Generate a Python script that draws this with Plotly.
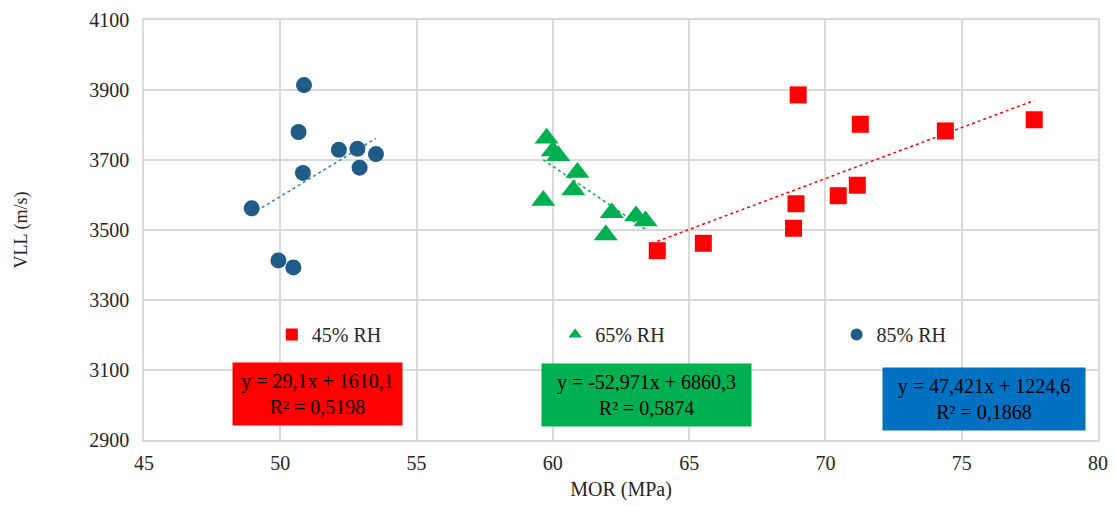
import plotly.graph_objects as go

# 45% RH (red squares)
x45 = [63.83, 65.52, 69.00, 68.83, 68.92, 70.47, 71.17, 71.28, 74.40, 77.66]
y45 = [3441, 3462, 3886, 3505, 3575, 3598, 3628, 3802, 3783, 3815]
# 65% RH (green triangles)
x65 = [59.77, 60.00, 60.20, 60.90, 60.75, 59.65, 62.16, 63.05, 63.40, 61.94]
y65 = [3762, 3726, 3712, 3664, 3614, 3584, 3549, 3540, 3526, 3486]
# 85% RH (blue circles)
x85 = [48.95, 50.87, 50.67, 50.83, 52.15, 52.83, 53.51, 52.91, 49.93, 50.48]
y85 = [3562, 3914, 3780, 3663, 3729, 3732, 3717, 3678, 3413, 3393]

# trend line coefficients (slope, intercept) and labels
fit45 = (29.1, 1610.1)
fit65 = (-52.971, 6860.3)
fit85 = (47.421, 1224.6)
eq45 = "y = 29,1x + 1610,1<br>R² = 0,5198"
eq65 = "y = -52,971x + 6860,3<br>R² = 0,5874"
eq85 = "y = 47,421x + 1224,6<br>R² = 0,1868"

RED, GREEN, BLUE_M, BLUE_BOX = "#FF0000", "#00B050", "#1F5C87", "#0070C0"
FONT = "Liberation Serif, Times New Roman, serif"
TXT = "#262626"

fig = go.Figure()

def trend(xs, fit, color):
    lo, hi = min(xs), max(xs)
    fig.add_trace(go.Scatter(x=[lo, hi], y=[fit[0] * lo + fit[1], fit[0] * hi + fit[1]],
                             mode="lines", line=dict(color=color, width=1.5, dash="3px,3px"),
                             showlegend=False, hoverinfo="skip"))

trend(x45, fit45, RED)
trend(x65, fit65, GREEN)
trend(x85, fit85, "#2E7FC4")

fig.add_trace(go.Scatter(x=x45, y=y45, mode="markers", name="45% RH", legend="legend",
                         marker=dict(symbol="square", size=17, color=RED)))
fig.add_trace(go.Scatter(x=x65, y=y65, mode="markers", name="65% RH", legend="legend2",
                         marker=dict(symbol="triangle-up", size=21, color=GREEN)))
fig.add_trace(go.Scatter(x=x85, y=y85, mode="markers", name="85% RH", legend="legend3",
                         marker=dict(symbol="circle", size=16, color=BLUE_M)))

def box(x, y, text, color, w):
    fig.add_annotation(x=x, y=y, xref="x", yref="y", text=text, showarrow=False,
                       bgcolor=color, font=dict(family=FONT, size=20, color="black"),
                       width=w, height=56, borderpad=3, align="center")

box(51.38, 3031, eq45, RED, 163)
box(63.45, 3029, eq65, GREEN, 203)
box(75.81, 3017, eq85, BLUE_BOX, 196)

axis_common = dict(showgrid=True, gridcolor="#D9D9D9", gridwidth=1.5, zeroline=False,
                   showline=True, linecolor="#D9D9D9", linewidth=1.5, mirror=True,
                   ticks="", tickfont=dict(family=FONT, size=20, color=TXT))
fig.update_xaxes(range=[45, 80], dtick=5, tick0=45, ticklabelstandoff=4,
                 title=dict(text="MOR (MPa)", font=dict(family=FONT, size=20, color=TXT), standoff=9),
                 **axis_common)
fig.update_yaxes(range=[2900, 4100], dtick=200, tick0=2900, ticklabelstandoff=9,
                 title=dict(text="VLL (m/s)", font=dict(family=FONT, size=18, color=TXT), standoff=57),
                 **axis_common)

def leg(xpx):
    return dict(x=xpx, y=0.251, xref="paper", yref="paper", xanchor="left", yanchor="middle",
                itemsizing="constant", bgcolor="rgba(0,0,0,0)", borderwidth=0,
                font=dict(family=FONT, size=20, color=TXT))

fig.update_layout(
    width=1100, height=499,
    margin=dict(l=136, r=10, t=12, b=67, autoexpand=False),
    plot_bgcolor="white", paper_bgcolor="white",
    font=dict(family=FONT, size=20, color=TXT),
    legend=leg(0.134),
    legend2=leg(0.431),
    legend3=leg(0.726),
)

fig.write_html("out.html")
